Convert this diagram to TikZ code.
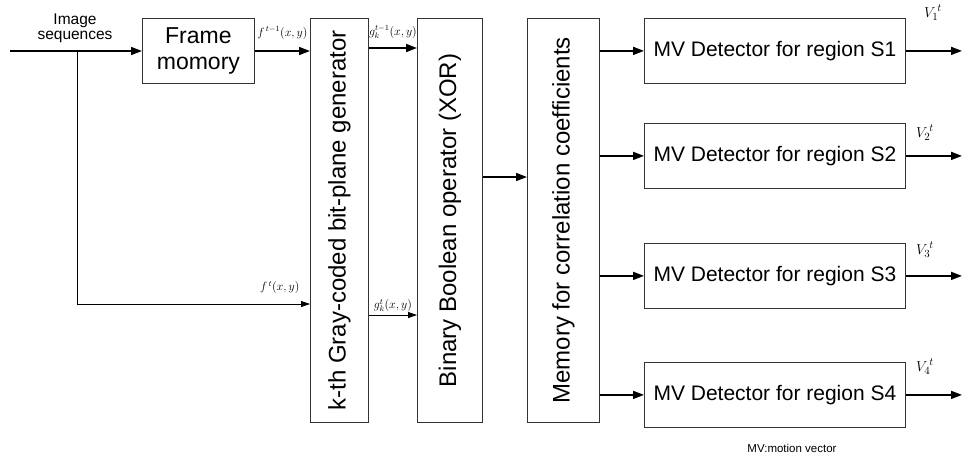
\documentclass[tikz,border=0pt]{standalone}
\usepackage{fontspec}
\setmainfont{Liberation Sans}
\usetikzlibrary{arrows.meta}
\begin{document}
\begin{tikzpicture}[x=1pt,y=-1pt,
  blk/.style={draw=black!80, line width=0.8pt, inner sep=0pt, anchor=north west},
  vblk/.style={blk, minimum width=#1, minimum height=404pt},
  mvblk/.style={blk, minimum width=261pt, minimum height=65pt, font=\fontsize{21}{24}\selectfont},
  vtext/.style={rotate=90, font=\fontsize{24}{26}\selectfont, inner sep=0pt},
  thick arrow/.style={line width=1.6pt, -{Triangle[length=11pt,width=8pt]}},
  thin arrow/.style={line width=0.8pt, -{Triangle[length=9pt,width=6pt]}},
  sig/.style={font=\fontsize{12}{12}\selectfont, inner sep=0pt},
  outsig/.style={font=\fontsize{15}{15}\selectfont, inner sep=0pt}]
\useasboundingbox (0,0) rectangle (966,461);

% processing blocks
\node[blk, minimum width=112pt, minimum height=65pt, align=center,
      font=\fontsize{23}{26}\selectfont] (fm) at (142,18) {Frame\\momory};
\node[vblk=58pt] (gen) at (310,18) {};
\node[vblk=65pt] (xor) at (417,18) {};
\node[vblk=72pt] (mem) at (527,18) {};
\node[vtext] (gentxt) at (gen.center) {k-th Gray-coded bit-plane generator};
\node[vtext] (xortxt) at (xor.center) {Binary Boolean operator (XOR)};
\node[vtext] (memtxt) at (mem.center) {Memory for correlation coefficients};

% motion vector detectors
\node[mvblk] (mv1) at (644,18)  {MV Detector for region S1};
\node[mvblk] (mv2) at (644,123) {MV Detector for region S2};
\node[mvblk] (mv3) at (644,243) {MV Detector for region S3};
\node[mvblk] (mv4) at (644,362) {MV Detector for region S4};

% input and its branch
\node[align=center, inner sep=0pt, font=\fontsize{15.5}{15}\selectfont] (inlbl) at (75,28) {Image\\sequences};
\coordinate (in) at (10,51);
\coordinate (split) at (77,51);
\coordinate (cur) at (77,304);
\draw[thick arrow] (in) -- (fm.west |- in);
\draw[line width=0.8pt] (split) -- (cur);
\draw[thin arrow] (cur) -- node[sig, pos=0.87, above=10pt] (ftl) {$f^{\,t}(x,y)$} (gen.west |- cur);

% previous frame path
\draw[thick arrow] (fm.east |- in) -- node[sig, midway, above=11pt] (fpl) {$f^{\,t-1}(x,y)$} (gen.west |- in);

% bit-plane outputs
\coordinate (gp) at (368,48);
\coordinate (gc) at (368,315);
\draw[thick arrow] (gen.east |- gp) -- node[sig, midway, above=9pt] (gpl) {$g_k^{t-1}(x,y)$} (xor.west |- gp);
\draw[thin arrow] (gen.east |- gc) -- node[sig, midway, above=3pt] (gcl) {$g_k^{t}(x,y)$} (xor.west |- gc);

% XOR to memory
\coordinate (xm) at (482,177);
\draw[thick arrow] (xor.east |- xm) -- (mem.west |- xm);

% memory to detectors and detector outputs
\foreach \i in {1,2,3,4}{
  \draw[thick arrow] (mem.east |- mv\i.west) -- (mv\i.west);
  \coordinate (o\i) at (962,0);
  \draw[thick arrow] (mv\i.east) -- (o\i |- mv\i.east);
}
\node[outsig] (v1) at (933,13)  {$V_1^{\,t}$};
\node[outsig] (v2) at (925,133) {$V_2^{\,t}$};
\node[outsig] (v3) at (925,250) {$V_3^{\,t}$};
\node[outsig] (v4) at (925,367) {$V_4^{\,t}$};

\node[font=\fontsize{11.5}{12}\selectfont] (note) at (792,448) {MV:motion vector};
\end{tikzpicture}
\end{document}
